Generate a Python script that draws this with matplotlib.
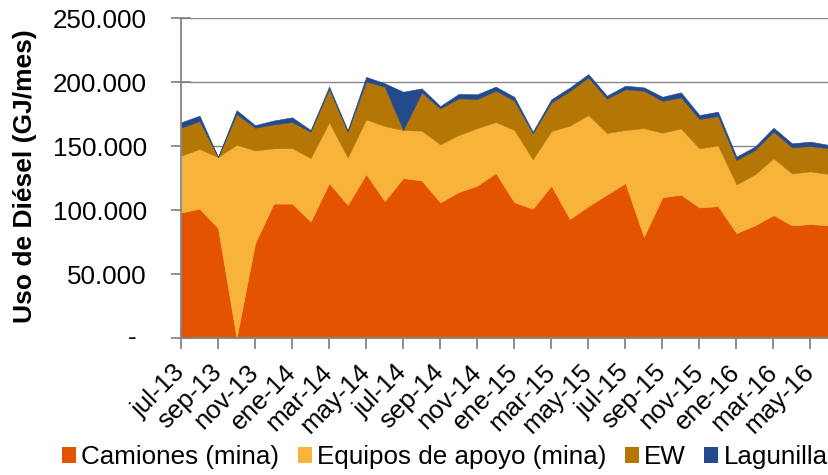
import matplotlib
matplotlib.use("Agg")
import matplotlib.pyplot as plt
import numpy as np
from matplotlib.patches import Rectangle
from matplotlib.ticker import FuncFormatter

plt.rcParams["font.family"] = ["Liberation Sans", "DejaVu Sans"]

# Monthly diesel use (GJ/mes), jul-13 .. jun-16
meses = ["jul-13", "ago-13", "sep-13", "oct-13", "nov-13", "dic-13",
         "ene-14", "feb-14", "mar-14", "abr-14", "may-14", "jun-14",
         "jul-14", "ago-14", "sep-14", "oct-14", "nov-14", "dic-14",
         "ene-15", "feb-15", "mar-15", "abr-15", "may-15", "jun-15",
         "jul-15", "ago-15", "sep-15", "oct-15", "nov-15", "dic-15",
         "ene-16", "feb-16", "mar-16", "abr-16", "may-16", "jun-16"]

camiones = [98000, 101000, 86000, 0, 74000, 105000,
            105000, 91000, 121000, 104000, 128000, 107000,
            125000, 123000, 106000, 114000, 119000, 129000,
            106000, 101000, 119000, 93000, 103000, 112000,
            121000, 79000, 110000, 112000, 102000, 103000,
            82000, 88000, 96000, 88000, 89000, 88000]

equipos_apoyo = [44400, 46700, 55400, 151000, 72600, 43200,
                 43400, 49600, 47500, 37100, 42800, 58600,
                 37500, 39000, 45300, 44600, 45000, 39800,
                 56500, 38600, 42700, 72900, 71200, 48200,
                 41500, 85000, 50400, 51800, 46200, 47500,
                 38000, 39900, 44400, 40600, 41200, 40100]

ew = [21900, 21800, 0, 24000, 17700, 18700,
      20300, 20600, 26000, 20100, 29500, 30800,
      0, 29900, 28100, 28600, 22700, 24400,
      22900, 20300, 22200, 27100, 29400, 26800,
      31800, 29200, 24800, 24200, 22900, 22900,
      19000, 19000, 20800, 20400, 19800, 20100]

lagunilla = [4200, 4200, 0, 3000, 2000, 3000,
             3700, 1300, 2000, 1000, 3700, 2600,
             29900, 3100, 1800, 3500, 3700, 3200,
             3000, 1300, 2600, 2700, 2600, 2300,
             2800, 2600, 3300, 3900, 3100, 3400,
             2700, 2600, 3100, 3100, 3400, 2600]

series_names = ["Camiones (mina)", "Equipos de apoyo (mina)", "EW", "Lagunilla"]
series_colors = ["#E45300", "#F8B33B", "#B47604", "#234A8C"]

W, H = 829, 475
fig = plt.figure(figsize=(W / 100, H / 100), dpi=100)
ax = fig.add_axes([181 / W, 1 - 338 / H, (829 - 181) / W, 320 / H])

x = np.arange(len(meses))
polys = ax.stackplot(x, camiones, equipos_apoyo, ew, lagunilla,
                     colors=series_colors, labels=series_names,
                     linewidth=0.4, zorder=1)
for p, c in zip(polys, series_colors):
    p.set_edgecolor(c)

ax.set_xlim(0, len(meses) - 1)
ax.set_ylim(0, 250000)

grey = "#868686"
ax.set_axisbelow(True)
ax.yaxis.grid(True, color=grey, linewidth=1.0)
for side in ("top", "right"):
    ax.spines[side].set_visible(False)
for side in ("left", "bottom"):
    ax.spines[side].set_color(grey)
    ax.spines[side].set_linewidth(1.3)
    ax.spines[side].set_zorder(3)

fs = 18.7
yt = np.arange(0, 250001, 50000)
ax.set_yticks(yt)
ax.yaxis.set_major_formatter(FuncFormatter(
    lambda v, p: "" if v == 0 else f"{int(v):,}".replace(",", ".")))
ax.tick_params(axis="y", direction="inout", length=15, width=1.3,
               color=grey, labelsize=fs, pad=17)
ax.annotate("-", xy=(0, 0), xycoords=("axes fraction", "data"),
            xytext=(-35, 0), textcoords="offset points",
            ha="center", va="center", fontsize=fs)

ax.set_xticks(x[::2])
ax.set_xticklabels(meses[::2], rotation=45, ha="right",
                   rotation_mode="anchor", va="center")
ax.tick_params(axis="x", direction="inout", length=16, width=1.3,
               color=grey, labelsize=fs, pad=14)

ax.set_ylabel("Uso de Diésel (GJ/mes)", fontsize=19, fontweight="bold",
              va="center")
ax.yaxis.set_label_coords((25 - 181) / 648, 0.505)

handles = [Rectangle((0, 0), 1, 1, facecolor=c, edgecolor="none")
           for c in series_colors]
fig.legend(handles, series_names, loc="center left",
           bbox_to_anchor=(62 / W, 1 - 457 / H), ncol=4, frameon=False,
           fontsize=fs, handlelength=0.55, handleheight=0.55,
           handletextpad=0.2, columnspacing=0.7, borderpad=0,
           borderaxespad=0)

fig.savefig("out.png", dpi=100)
